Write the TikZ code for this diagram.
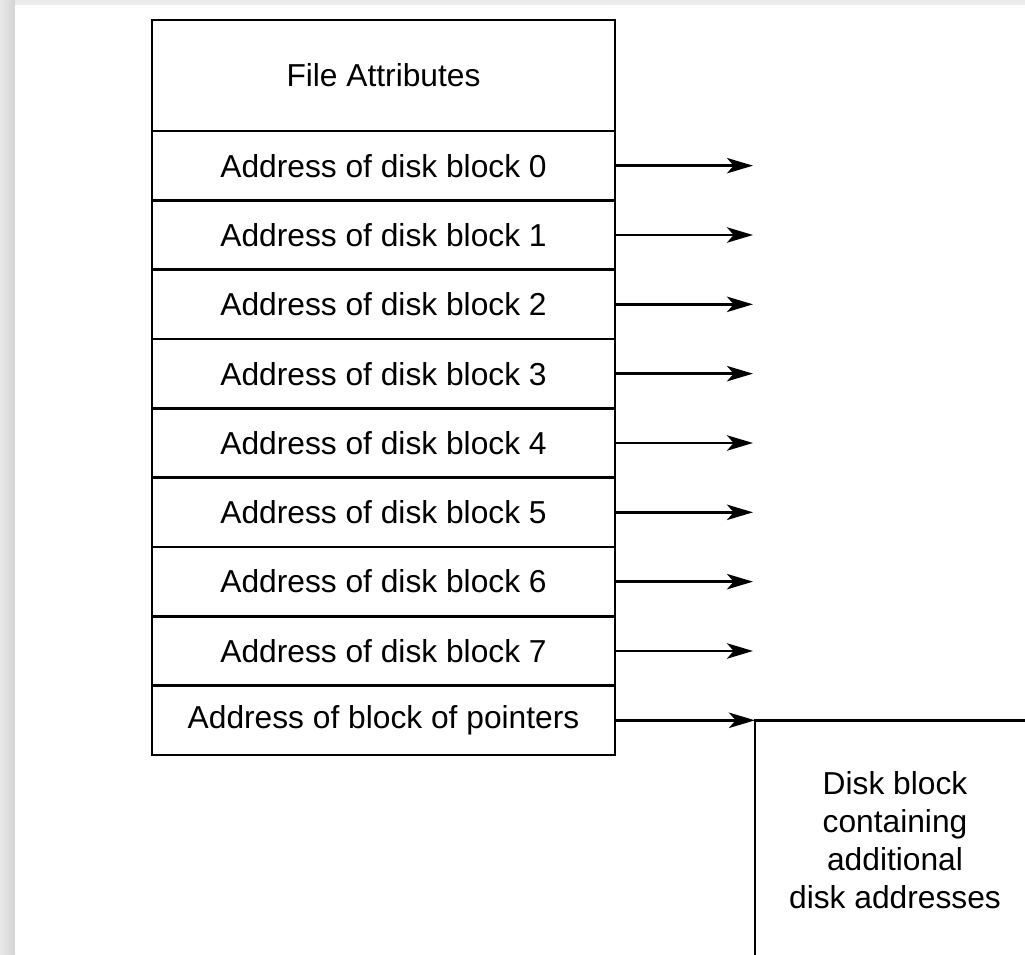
\documentclass[tikz,border=0pt]{standalone}
\usepackage{fontspec}
\setmainfont{Liberation Sans}
\usetikzlibrary{arrows.meta}
\begin{document}
\begin{tikzpicture}[x=0.75pt,y=-0.75pt,
  line width=2.2pt,
  cell/.style={draw, minimum width=347.25pt, minimum height=52pt, inner sep=0pt, outer sep=0pt,
    font=\fontsize{23.8}{28.5}\selectfont},
  ptr/.style={-{Stealth[length=19.5pt,width=11.5pt,inset=5pt]}, line width=2.2pt},
  txt/.style={align=center, inner sep=0pt, font=\fontsize{23.8}{28.5}\selectfont}]
\useasboundingbox (0,0) rectangle (1025,954);
% page shadow
\fill[black!8] (0,0) rectangle (1025,954);
\shade[left color=black!9, right color=black!17] (0,0) rectangle (15,954);
\fill[white] (15,5) rectangle (1025,954);
% file attributes
\node[cell, minimum height=83.25pt] (fa) at (383.5,75.5) {File Attributes};
\foreach \i in {0,...,7} {
  \node[cell] (r\i) at (383.5,{131+69.33*(\i+0.5)}) {Address of disk block \i};
  \coordinate (t\i) at (753,{131+69.33*(\i+0.5)});
  \draw[ptr] (r\i.east) -- (t\i);
}
\node[cell] (r8) at (383.5,{131+69.33*8.5}) {Address of block of pointers};
\coordinate (db) at (755,{131+69.33*8.5});
\draw[ptr] (r8.east) -- (db);
\draw (1030,{131+69.33*8.5}) -- (db) -- (755,960);
\node[txt] (dbtext) at (895,840) {Disk block\\containing\\additional\\disk addresses};
\end{tikzpicture}
\end{document}
